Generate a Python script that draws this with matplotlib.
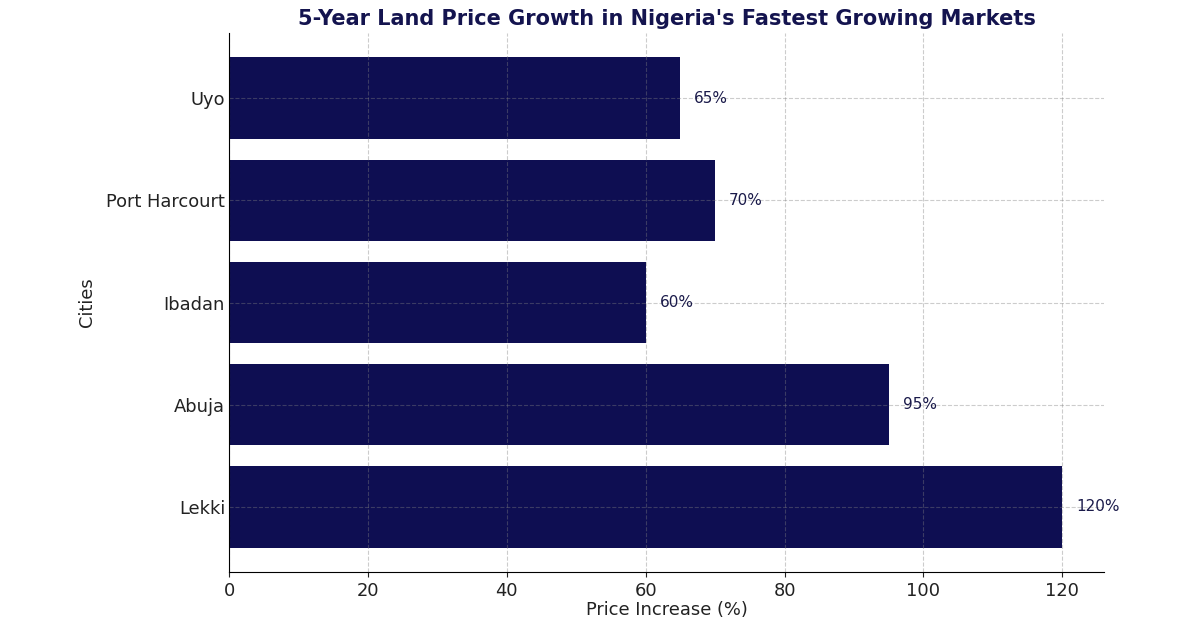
import matplotlib
matplotlib.use("Agg")
import matplotlib.pyplot as plt

cities = ["Lekki", "Abuja", "Ibadan", "Port Harcourt", "Uyo"]
growth = [120, 95, 60, 70, 65]

navy = "#0e0e52"
fig = plt.figure(figsize=(12, 6.28), dpi=100)
ax = fig.add_axes([0.191, 0.089, 0.729, 0.8585])
bars = ax.barh(cities, growth, color=navy, height=0.8, zorder=2)
ax.grid(True, linestyle="--", color="gray", alpha=0.4, linewidth=0.8, zorder=3)
ax.set_axisbelow(False)
for b, v in zip(bars, growth):
    ax.text(v + 2, b.get_y() + b.get_height() / 2, f"{v}%", va="center", ha="left",
            fontsize=11, color="#1a1a4a")
ax.spines["top"].set_visible(False)
ax.spines["right"].set_visible(False)
for s in ("left", "bottom"):
    ax.spines[s].set_zorder(5)
ax.tick_params(axis="both", labelsize=12.9, colors="#222222")
ax.tick_params(axis="y", length=0, pad=3)
ax.set_xlabel("Price Increase (%)", fontsize=12.9, color="#222222", labelpad=1)
ax.set_ylabel("Cities", fontsize=12.9, color="#222222", labelpad=7)
ax.set_title("5-Year Land Price Growth in Nigeria's Fastest Growing Markets",
             fontsize=15, fontweight="bold", color="#14144f", pad=6)
fig.savefig("out.png", dpi=100, facecolor="white")
